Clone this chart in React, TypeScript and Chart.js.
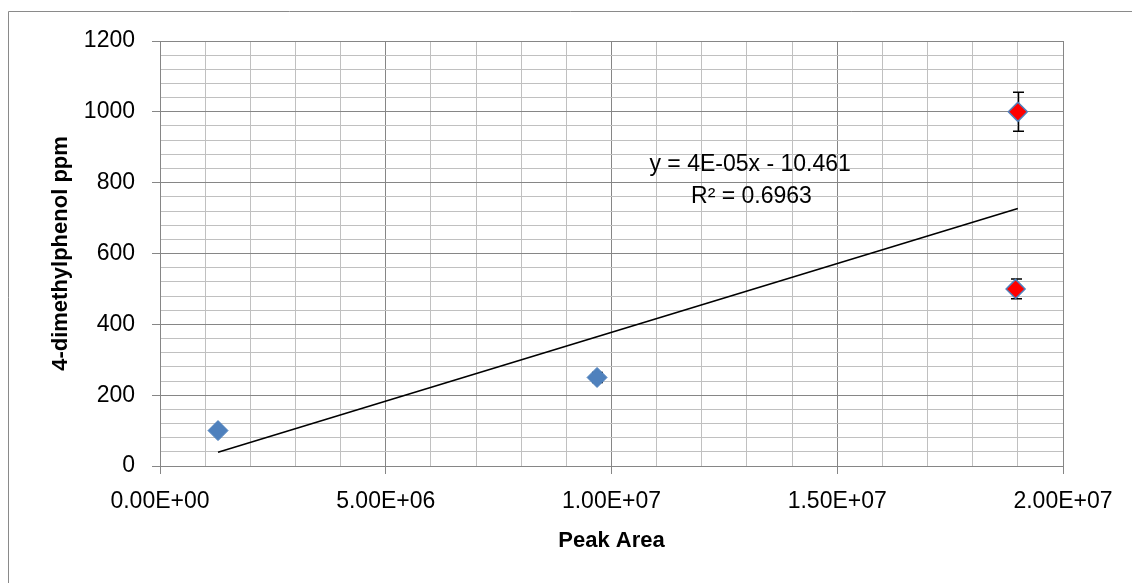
import React, { useEffect, useRef } from 'react';
import { Chart, registerables } from 'chart.js';

Chart.register(...registerables);

// ---- data ----
const blueX = [1.285e6, 9.68e6];
const blueY = [100, 250];
const blueErr = [8, 14];

const redX = [1.9e7, 1.895e7];
const redY = [1000, 500];
const redErr = [55, 28];

const trendX = [1.285e6, 1.9e7];
const trendY = [39, 727];

const xMajorValues = [0, 5e6, 1e7, 1.5e7, 2e7];
const xMajorLabels = ['0.00E+00', '5.00E+06', '1.00E+07', '1.50E+07', '2.00E+07'];
const yMajorValues = [0, 200, 400, 600, 800, 1000, 1200];
const yMajorLabels = ['0', '200', '400', '600', '800', '1000', '1200'];

const equationLines = ['y = 4E-05x - 10.461', 'R² = 0.6963'];
const equationAnchorX = [1.307e7, 1.31e7];
const equationAnchorY = [850, 760];

const xAxisTitle = 'Peak Area';
const yAxisTitle = '4-dimethylphenol ppm';

const FONT = '"Liberation Sans", Arial, sans-serif';
const MAJOR = '#868686';
const MINOR = '#c0c0c0';

const isXMajor = (v: number) => xMajorValues.some((m) => Math.abs(m - v) < 1);
const isYMajor = (v: number) => yMajorValues.some((m) => Math.abs(m - v) < 1e-6);

const framePlugin = {
  id: 'frame',
  beforeDraw(chart: any) {
    const { ctx, width, height } = chart;
    ctx.save();
    ctx.strokeStyle = '#8a8a8a';
    ctx.lineWidth = 1;
    ctx.beginPath();
    ctx.moveTo(8.5, height);
    ctx.lineTo(8.5, 11.5);
    ctx.lineTo(width, 11.5);
    ctx.stroke();
    ctx.restore();
  },
};

const errorBarPlugin = {
  id: 'errorBars',
  beforeDatasetsDraw(chart: any) {
    const { ctx } = chart;
    const xs = chart.scales.x;
    const ys = chart.scales.y;
    const groups = [
      { x: blueX, y: blueY, e: blueErr },
      { x: redX, y: redY, e: redErr },
    ];
    ctx.save();
    ctx.strokeStyle = '#000';
    ctx.lineWidth = 1.5;
    groups.forEach((g) => {
      g.x.forEach((xv, i) => {
        const px = Math.round(xs.getPixelForValue(xv)) + 0.5;
        const top = ys.getPixelForValue(g.y[i] + g.e[i]);
        const bot = ys.getPixelForValue(g.y[i] - g.e[i]);
        ctx.beginPath();
        ctx.moveTo(px, top);
        ctx.lineTo(px, bot);
        ctx.moveTo(px - 5.5, top);
        ctx.lineTo(px + 5.5, top);
        ctx.moveTo(px - 5.5, bot);
        ctx.lineTo(px + 5.5, bot);
        ctx.stroke();
      });
    });
    ctx.restore();
  },
};

const equationPlugin = {
  id: 'equation',
  afterDatasetsDraw(chart: any) {
    const { ctx } = chart;
    const xs = chart.scales.x;
    const ys = chart.scales.y;
    ctx.save();
    ctx.font = `23px ${FONT}`;
    ctx.fillStyle = '#000';
    ctx.textAlign = 'center';
    ctx.textBaseline = 'middle';
    equationLines.forEach((t, i) => {
      ctx.fillText(t, xs.getPixelForValue(equationAnchorX[i]), ys.getPixelForValue(equationAnchorY[i]));
    });
    ctx.restore();
  },
};

export default function App() {
  const ref = useRef<HTMLCanvasElement | null>(null);

  useEffect(() => {
    if (!ref.current) return;
    document.body.style.margin = '0';
    const chart = new Chart(ref.current, {
      type: 'scatter',
      data: {
        datasets: [
          {
            label: 'standards',
            data: blueX.map((x, i) => ({ x, y: blueY[i] })),
            pointStyle: 'rectRot',
            pointRadius: 10,
            pointHoverRadius: 10,
            backgroundColor: '#4F81BD',
            borderColor: '#4F81BD',
            borderWidth: 1,
          },
          {
            label: 'samples',
            data: redX.map((x, i) => ({ x, y: redY[i] })),
            pointStyle: 'rectRot',
            pointRadius: 9.5,
            pointHoverRadius: 9.5,
            backgroundColor: '#FF0000',
            borderColor: '#4F81BD',
            borderWidth: 1.5,
          },
          {
            label: 'trend',
            data: trendX.map((x, i) => ({ x, y: trendY[i] })),
            showLine: true,
            borderColor: '#000',
            borderWidth: 1.6,
            pointRadius: 0,
            pointHoverRadius: 0,
            fill: false,
          } as any,
        ],
      },
      options: {
        animation: false,
        responsive: false,
        events: [],
        font: { family: FONT } as any,
        layout: { padding: { left: 0, top: 41, right: 69, bottom: 0 } },
        plugins: {
          legend: { display: false },
          tooltip: { enabled: false },
        },
        scales: {
          x: {
            type: 'linear',
            position: 'bottom',
            min: 0,
            max: 2e7,
            afterFit: (s: any) => {
              s.height = 117;
            },
            ticks: {
              stepSize: 1e6,
              maxTicksLimit: 1000,
              autoSkip: false,
              maxRotation: 0,
              minRotation: 0,
              padding: 14,
              color: '#000',
              font: { family: FONT, size: 23 },
              callback: (v: any) => {
                const i = xMajorValues.findIndex((m) => Math.abs(m - Number(v)) < 1);
                return i >= 0 ? xMajorLabels[i] : '';
              },
            },
            grid: {
              color: (c: any) => (c.tick && isXMajor(c.tick.value) ? MAJOR : MINOR),
              tickColor: (c: any) => (c.tick && isXMajor(c.tick.value) ? MAJOR : 'rgba(0,0,0,0)'),
              lineWidth: 1,
              tickLength: 8,
              drawTicks: true,
            },
            border: { display: true, color: MAJOR, width: 1 },
            title: {
              display: true,
              text: xAxisTitle,
              color: '#000',
              font: { family: FONT, size: 22, weight: 'bold' },
              padding: { top: 0, bottom: 29 },
            },
          },
          y: {
            type: 'linear',
            position: 'left',
            min: 0,
            max: 1200,
            afterFit: (s: any) => {
              s.width = 160;
            },
            ticks: {
              stepSize: 40,
              maxTicksLimit: 1000,
              autoSkip: false,
              padding: 17,
              color: '#000',
              font: { family: FONT, size: 23 },
              callback: (v: any) => {
                const i = yMajorValues.findIndex((m) => Math.abs(m - Number(v)) < 1e-6);
                return i >= 0 ? yMajorLabels[i] : '';
              },
            },
            grid: {
              color: (c: any) => (c.tick && isYMajor(c.tick.value) ? MAJOR : MINOR),
              tickColor: (c: any) => (c.tick && isYMajor(c.tick.value) ? MAJOR : 'rgba(0,0,0,0)'),
              lineWidth: 1,
              tickLength: 8,
              drawTicks: true,
            },
            border: { display: true, color: MAJOR, width: 1 },
            title: {
              display: true,
              text: yAxisTitle,
              color: '#000',
              font: { family: FONT, size: 22, weight: 'bold' },
              padding: { top: 48, bottom: 0 },
            },
          },
        },
      } as any,
      plugins: [framePlugin, errorBarPlugin, equationPlugin],
    });
    return () => chart.destroy();
  }, []);

  return (
    <div style={{ position: 'absolute', left: 0, top: 0, width: 1132, height: 583, background: '#fff' }}>
      <canvas ref={ref} width={1132} height={583} style={{ width: 1132, height: 583, display: 'block' }} />
    </div>
  );
}
